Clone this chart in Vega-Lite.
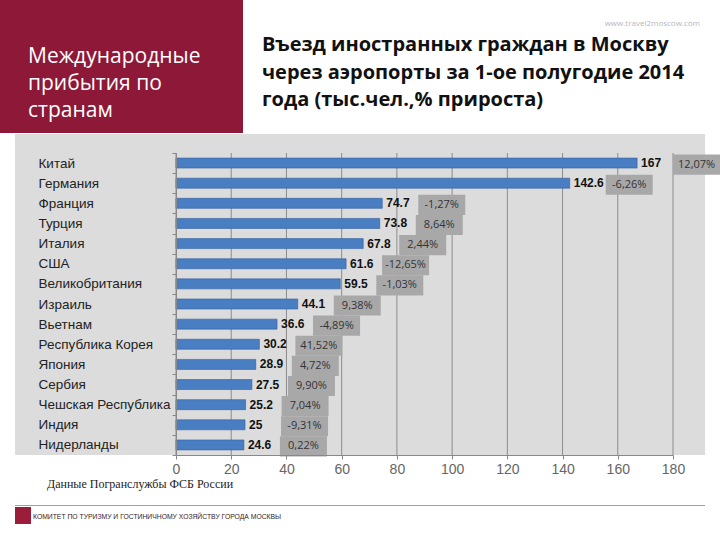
{
  "$schema": "https://vega.github.io/schema/vega-lite/v6.json",
  "background": "white",
  "padding": 0,
  "spacing": 1,
  "config": {"view": {"stroke": null}},
  "vconcat": [
    {
      "hconcat": [
        {
          "width": 243, "height": 133,
          "view": {"fill": "#8e1838", "stroke": null},
          "data": {"values": [{"label": "Международные\nприбытия по\nстранам"}]},
          "mark": {"type": "text", "align": "left", "baseline": "middle", "color": "white", "font": "Open Sans", "fontSize": 21, "lineHeight": 27, "lineBreak": "\n", "dx": -93.5, "dy": -9.5},
          "encoding": {"text": {"field": "label"}}
        },
        {
          "width": 477, "height": 133,
          "data": {"values": [{"title": "Въезд иностранных граждан в Москву\nчерез аэропорты за 1-ое полугодие 2014\nгода (тыс.чел.,% прироста)", "url": "www.travel2moscow.com"}]},
          "layer": [
            {
              "mark": {"type": "text", "align": "left", "baseline": "middle", "color": "#111", "font": "Open Sans", "fontWeight": "bold", "fontSize": 20, "lineHeight": 27.5, "lineBreak": "\n", "dx": -219.5, "dy": -21.5},
              "encoding": {"text": {"field": "title"}}
            },
            {
              "mark": {"type": "text", "align": "right", "baseline": "middle", "color": "#b8b8b8", "font": "Open Sans", "fontSize": 8, "dx": 218.5, "dy": -43},
              "encoding": {"text": {"field": "url"}}
            }
          ]
        }
      ],
      "spacing": 0
    },
    {
      "hconcat": [
        {
          "width": 1, "height": 1,
          "data": {"values": [{}]},
          "mark": {"type": "rect", "opacity": 0},
          "encoding": {}
        },
        {
          "width": 497, "height": 302,
          "data": {"values": [
            {"country": "Китай", "value": 167, "growth": "12,07%"},
            {"country": "Германия", "value": 142.6, "growth": "-6,26%"},
            {"country": "Франция", "value": 74.7, "growth": "-1,27%"},
            {"country": "Турция", "value": 73.8, "growth": "8,64%"},
            {"country": "Италия", "value": 67.8, "growth": "2,44%"},
            {"country": "США", "value": 61.6, "growth": "-12,65%"},
            {"country": "Великобритания", "value": 59.5, "growth": "-1,03%"},
            {"country": "Израиль", "value": 44.1, "growth": "9,38%"},
            {"country": "Вьетнам", "value": 36.6, "growth": "-4,89%"},
            {"country": "Республика Корея", "value": 30.2, "growth": "41,52%"},
            {"country": "Япония", "value": 28.9, "growth": "4,72%"},
            {"country": "Сербия", "value": 27.5, "growth": "9,90%"},
            {"country": "Чешская Республика", "value": 25.2, "growth": "7,04%"},
            {"country": "Индия", "value": 25, "growth": "-9,31%"},
            {"country": "Нидерланды", "value": 24.6, "growth": "0,22%"}
          ]},
          "layer": [
            {
              "data": {"values": [{}]},
              "mark": {"type": "rect", "color": "#dcdcdc", "clip": false, "yOffset": -19, "y2Offset": 24},
              "encoding": {
                "x": {"datum": -58.3, "type": "quantitative", "scale": {"domain": [0, 180], "nice": false}},
                "x2": {"datum": 191.6}
              }
            },
            {
              "data": {"values": [{"tick": 0}, {"tick": 20}, {"tick": 40}, {"tick": 60}, {"tick": 80}, {"tick": 100}, {"tick": 120}, {"tick": 140}, {"tick": 160}, {"tick": 180}]},
              "mark": {"type": "rule", "color": "#8c8c8c", "strokeWidth": 1},
              "encoding": {
                "x": {"field": "tick", "type": "quantitative", "scale": {"domain": [0, 180], "nice": false}}
              }
            },
            {
              "mark": {"type": "bar", "color": "#4a7ec2", "stroke": "#30609e", "strokeWidth": 0.6, "size": 10},
              "encoding": {
                "x": {"field": "value", "type": "quantitative", "scale": {"domain": [0, 180], "nice": false},
                  "axis": {"title": null, "values": [0, 20, 40, 60, 80, 100, 120, 140, 160, 180], "grid": false, "zindex": 1, "labelFont": "Liberation Sans", "labelFontSize": 14, "labelColor": "#666", "domainColor": "#888", "tickColor": "#888", "tickSize": 4, "labelPadding": 3, "labelFlush": false}},
                "y": {"field": "country", "type": "nominal", "sort": null, "scale": {"paddingInner": 0, "paddingOuter": 0},
                  "axis": {"title": null, "zindex": 1, "labelAlign": "left", "labelPadding": 134, "tickBand": "extent", "tickSize": 4, "labelFont": "Liberation Sans", "labelFontSize": 13.5, "labelColor": "#222", "domainColor": "#888", "tickColor": "#888"}}
              }
            },
            {
              "mark": {"type": "text", "align": "left", "baseline": "middle", "dx": 4, "font": "Liberation Sans", "fontWeight": "bold", "fontSize": 12, "color": "#111"},
              "encoding": {
                "x": {"field": "value", "type": "quantitative", "scale": {"domain": [0, 180], "nice": false}},
                "y": {"field": "country", "type": "nominal", "sort": null},
                "text": {"field": "value", "type": "quantitative", "format": "~g"}
              }
            },
            {
              "mark": {"type": "rect", "color": "#a8a8a8", "xOffset": 36, "x2Offset": 83, "yOffset": 1.5, "y2Offset": 1.5, "clip": false},
              "encoding": {
                "x": {"field": "value", "type": "quantitative", "scale": {"domain": [0, 180], "nice": false}},
                "x2": {"field": "value"},
                "y": {"field": "country", "type": "nominal", "sort": null}
              }
            },
            {
              "mark": {"type": "text", "align": "center", "baseline": "middle", "dx": 59.5, "dy": 1.5, "font": "Open Sans", "fontSize": 11, "color": "#333"},
              "encoding": {
                "x": {"field": "value", "type": "quantitative", "scale": {"domain": [0, 180], "nice": false}},
                "y": {"field": "country", "type": "nominal", "sort": null},
                "text": {"field": "growth"}
              }
            }
          ]
        }
      ],
      "spacing": 14
    },
    {
      "width": 720, "height": 27,
      "data": {"values": [{"source": "Данные Погранслужбы ФСБ России"}]},
      "mark": {"type": "text", "align": "left", "baseline": "middle", "font": "Liberation Serif", "fontSize": 12, "color": "#222", "dx": -313, "dy": -7},
      "encoding": {"text": {"field": "source"}}
    },
    {
      "hconcat": [
        {"width": 1, "height": 1, "data": {"values": [{}]}, "mark": {"type": "rect", "opacity": 0}, "encoding": {}},
        {"width": 690, "height": 1, "view": {"fill": "#a0a0a0", "stroke": null}, "data": {"values": [{}]}, "mark": {"type": "rect", "opacity": 0}, "encoding": {}}
      ],
      "spacing": 14
    },
    {
      "hconcat": [
        {"width": 13, "height": 1, "data": {"values": [{}]}, "mark": {"type": "rect", "opacity": 0}, "encoding": {}},
        {"width": 16, "height": 17, "view": {"fill": "#9c1d3a", "stroke": null}, "data": {"values": [{}]}, "mark": {"type": "rect", "opacity": 0}, "encoding": {}},
        {
          "width": 300, "height": 17,
          "data": {"values": [{"org": "КОМИТЕТ ПО ТУРИЗМУ И ГОСТИНИЧНОМУ ХОЗЯЙСТВУ ГОРОДА МОСКВЫ"}]},
          "mark": {"type": "text", "align": "left", "baseline": "middle", "font": "Liberation Sans", "fontSize": 6.8, "color": "#3a1a22", "dx": -150, "dy": 1},
          "encoding": {"text": {"field": "org"}}
        }
      ],
      "spacing": 2
    }
  ]
}
